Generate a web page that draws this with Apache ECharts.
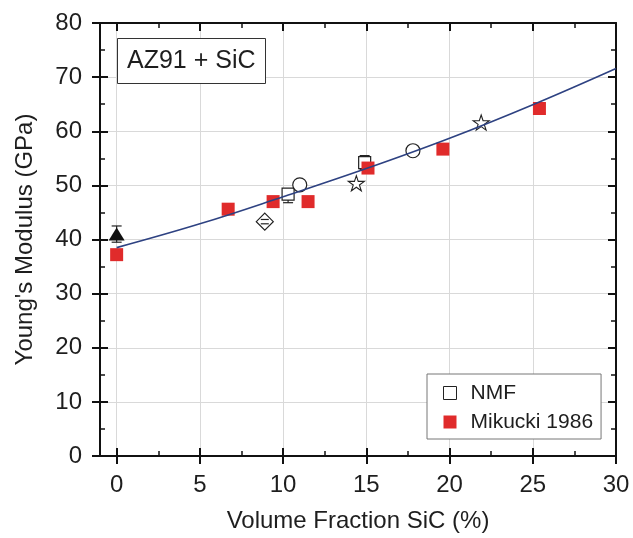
<!DOCTYPE html>
<html>
<head>
<meta charset="utf-8">
<script src="https://cdn.jsdelivr.net/npm/echarts@6/dist/echarts.min.js"></script>
<style>
html,body{margin:0;padding:0;background:#fff;}
#chart{width:633px;height:538px;}
</style>
</head>
<body>
<div id="chart"></div>
<script>
// ---- data ----
const xMajorTicks = [0, 5, 10, 15, 20, 25, 30];
const xMinorTicks = [2.5, 7.5, 12.5, 17.5, 22.5, 27.5];

const mikuckiX = [0, 6.7, 9.4, 11.5, 15.1, 19.6, 25.4];
const mikuckiY = [37.2, 45.6, 47.0, 47.0, 53.2, 56.7, 64.2];

const nmfSquareX = [10.3, 14.9];
const nmfSquareY = [48.4, 54.2];

const circleX = [11.0, 17.8];
const circleY = [50.1, 56.4];

const starX = [14.4, 21.9];
const starY = [50.4, 61.6];

const diamondX = [8.9];
const diamondY = [43.3];

const triangleX = [0];
const triangleY = [41.0];

// error bars (x, low, high)
const errX = [0, 10.3, 14.9];
const errLow = [39.5, 46.8, 52.9];
const errHigh = [42.5, 49.3, 55.5];
const errDiamondX = [8.9];
const errDiamondLow = [42.9];
const errDiamondHigh = [43.7];

// fitted curve
const fitX = [0, 5, 10, 15, 20, 25, 30];
const fitY = [38.5, 42.9, 47.9, 53.1, 58.7, 64.9, 71.6];

// ---- helpers ----
const zip = (a, b) => a.map((v, i) => [v, b[i]]);
const zip3 = (a, b, c) => a.map((v, i) => [v, b[i], c[i]]);
const FONT = "'Liberation Sans', Arial, Helvetica, sans-serif";
const TXT = '#1e1e1e';
const AX = '#111';
const GRIDC = '#d9d9d9';
const starPath = 'path://M50,2 L61.2,36.2 L97.6,36.2 L68.2,57.6 L79.4,92 L50,70.8 L20.6,92 L31.8,57.6 L2.4,36.2 L38.8,36.2 Z';

function errRender(capW, withStem) {
  return function (params, api) {
    const x = api.value(0), lo = api.value(1), hi = api.value(2);
    const p1 = api.coord([x, hi]);
    const p2 = api.coord([x, lo]);
    const st = { stroke: '#222', lineWidth: 1.2 };
    const children = [
      { type: 'line', shape: { x1: p1[0] - capW, y1: p1[1], x2: p1[0] + capW, y2: p1[1] }, style: st },
      { type: 'line', shape: { x1: p2[0] - capW, y1: p2[1], x2: p2[0] + capW, y2: p2[1] }, style: st }
    ];
    if (withStem) {
      children.push({ type: 'line', shape: { x1: p1[0], y1: p1[1], x2: p2[0], y2: p2[1] }, style: st });
    }
    return { type: 'group', children: children };
  };
}

const xBase = { type: 'value', min: -1, max: 30, gridIndex: 0 };
const hidden = { axisLabel: { show: false }, splitLine: { show: false } };

const option = {
  backgroundColor: '#fff',
  animation: false,
  textStyle: { fontFamily: FONT },
  grid: { left: 100, right: 17, top: 23, bottom: 81, containLabel: false },
  title: {
    text: 'AZ91 + SiC',
    left: 117, top: 38,
    padding: [9, 10, 9, 10],
    borderColor: '#333', borderWidth: 1, backgroundColor: '#fff',
    textStyle: { fontFamily: FONT, fontSize: 25, fontWeight: 'normal', color: TXT, lineHeight: 28 }
  },
  legend: {
    data: ['NMF', 'Mikucki 1986'],
    orient: 'vertical',
    left: 427, top: 374,
    padding: [8, 8, 6, 16],
    itemGap: 7,
    itemWidth: 13, itemHeight: 13,
    icon: 'rect',
    itemStyle: { borderWidth: 1 },
    borderColor: '#777', borderWidth: 1, backgroundColor: '#fff',
    textStyle: { fontFamily: FONT, fontSize: 21, color: TXT, lineHeight: 22, padding: [0, 0, 0, 9] }
  },
  xAxis: [
    Object.assign({}, xBase, {
      position: 'bottom',
      name: 'Volume Fraction SiC (%)',
      nameLocation: 'middle', nameGap: 53,
      nameTextStyle: { fontFamily: FONT, fontSize: 24, color: TXT },
      axisLine: { show: true, onZero: false, lineStyle: { color: AX, width: 2 } },
      axisTick: { show: true, inside: false, length: 8, customValues: xMajorTicks, lineStyle: { color: AX, width: 2 } },
      axisLabel: { show: true, customValues: xMajorTicks, fontSize: 24, color: TXT, margin: 17, fontFamily: FONT },
      splitLine: { show: true, lineStyle: { color: GRIDC, width: 1 } }
    }),
    Object.assign({}, xBase, hidden, {
      position: 'bottom',
      axisLine: { show: false, onZero: false },
      axisTick: { show: true, inside: true, length: 8, customValues: xMajorTicks, lineStyle: { color: AX, width: 2 } }
    }),
    Object.assign({}, xBase, hidden, {
      position: 'bottom',
      axisLine: { show: false, onZero: false },
      axisTick: { show: true, inside: true, length: 5, customValues: xMinorTicks, lineStyle: { color: AX, width: 1.5 } }
    }),
    Object.assign({}, xBase, hidden, {
      position: 'top',
      axisLine: { show: true, onZero: false, lineStyle: { color: AX, width: 2 } },
      axisTick: { show: true, inside: true, length: 8, customValues: xMajorTicks, lineStyle: { color: AX, width: 2 } }
    }),
    Object.assign({}, xBase, hidden, {
      position: 'top',
      axisLine: { show: false, onZero: false },
      axisTick: { show: true, inside: true, length: 5, customValues: xMinorTicks, lineStyle: { color: AX, width: 1.5 } }
    })
  ],
  yAxis: [
    {
      type: 'value', min: 0, max: 80, interval: 10, position: 'left',
      name: "Young's Modulus (GPa)",
      nameLocation: 'middle', nameGap: 63,
      nameTextStyle: { fontFamily: FONT, fontSize: 24, color: TXT },
      axisLine: { show: true, onZero: false, lineStyle: { color: AX, width: 2 } },
      axisTick: { show: true, inside: false, length: 8, lineStyle: { color: AX, width: 2 } },
      axisLabel: { fontSize: 24, color: TXT, margin: 18, fontFamily: FONT },
      splitLine: { show: true, lineStyle: { color: GRIDC, width: 1 } }
    },
    {
      type: 'value', min: 0, max: 80, interval: 10, position: 'left',
      axisLine: { show: false, onZero: false },
      axisTick: { show: true, inside: true, length: 8, lineStyle: { color: AX, width: 2 } },
      minorTick: { show: true, splitNumber: 2, length: 5, lineStyle: { color: AX, width: 1.5 } },
      axisLabel: { show: false }, splitLine: { show: false }
    },
    {
      type: 'value', min: 0, max: 80, interval: 10, position: 'right',
      axisLine: { show: true, onZero: false, lineStyle: { color: AX, width: 2 } },
      axisTick: { show: true, inside: true, length: 8, lineStyle: { color: AX, width: 2 } },
      minorTick: { show: true, splitNumber: 2, length: 5, lineStyle: { color: AX, width: 1.5 } },
      axisLabel: { show: false }, splitLine: { show: false }
    }
  ],
  series: [
    {
      name: 'err', type: 'custom', renderItem: errRender(5, true), z: 2,
      data: zip3(errX, errLow, errHigh), silent: true
    },
    {
      name: 'NMF', type: 'scatter', z: 3,
      symbol: 'rect', symbolSize: 12,
      itemStyle: { color: '#fff', borderColor: '#222', borderWidth: 1.2, opacity: 1 },
      data: zip(nmfSquareX, nmfSquareY)
    },
    {
      name: 'circle', type: 'scatter', z: 3,
      symbol: 'circle', symbolSize: 14,
      itemStyle: { color: '#fff', borderColor: '#222', borderWidth: 1.2, opacity: 1 },
      data: zip(circleX, circleY)
    },
    {
      name: 'star', type: 'scatter', z: 3,
      symbol: starPath, symbolSize: 16, symbolKeepAspect: true,
      itemStyle: { color: '#fff', borderColor: '#222', borderWidth: 1.1, opacity: 1 },
      data: zip(starX, starY)
    },
    {
      name: 'diamond', type: 'scatter', z: 3,
      symbol: 'diamond', symbolSize: [17, 17],
      itemStyle: { color: '#fff', borderColor: '#222', borderWidth: 1.2, opacity: 1 },
      data: zip(diamondX, diamondY)
    },
    {
      name: 'errDiamond', type: 'custom', renderItem: errRender(4, false), z: 4,
      data: zip3(errDiamondX, errDiamondLow, errDiamondHigh), silent: true
    },
    {
      name: 'triangle', type: 'scatter', z: 3,
      symbol: 'triangle', symbolSize: [16, 13],
      itemStyle: { color: '#111', opacity: 1 },
      data: zip(triangleX, triangleY)
    },
    {
      name: 'Mikucki 1986', type: 'scatter', z: 4,
      symbol: 'rect', symbolSize: 13,
      itemStyle: { color: '#e02b2b', opacity: 1 },
      data: zip(mikuckiX, mikuckiY)
    },
    {
      name: 'fit', type: 'line', z: 5,
      smooth: 0.4, showSymbol: false, symbol: 'none',
      lineStyle: { color: '#2e4282', width: 1.6 },
      data: zip(fitX, fitY), silent: true
    }
  ]
};

const chart = echarts.init(document.getElementById('chart'), null, { renderer: 'canvas' });
chart.setOption(option);
</script>
</body>
</html>
